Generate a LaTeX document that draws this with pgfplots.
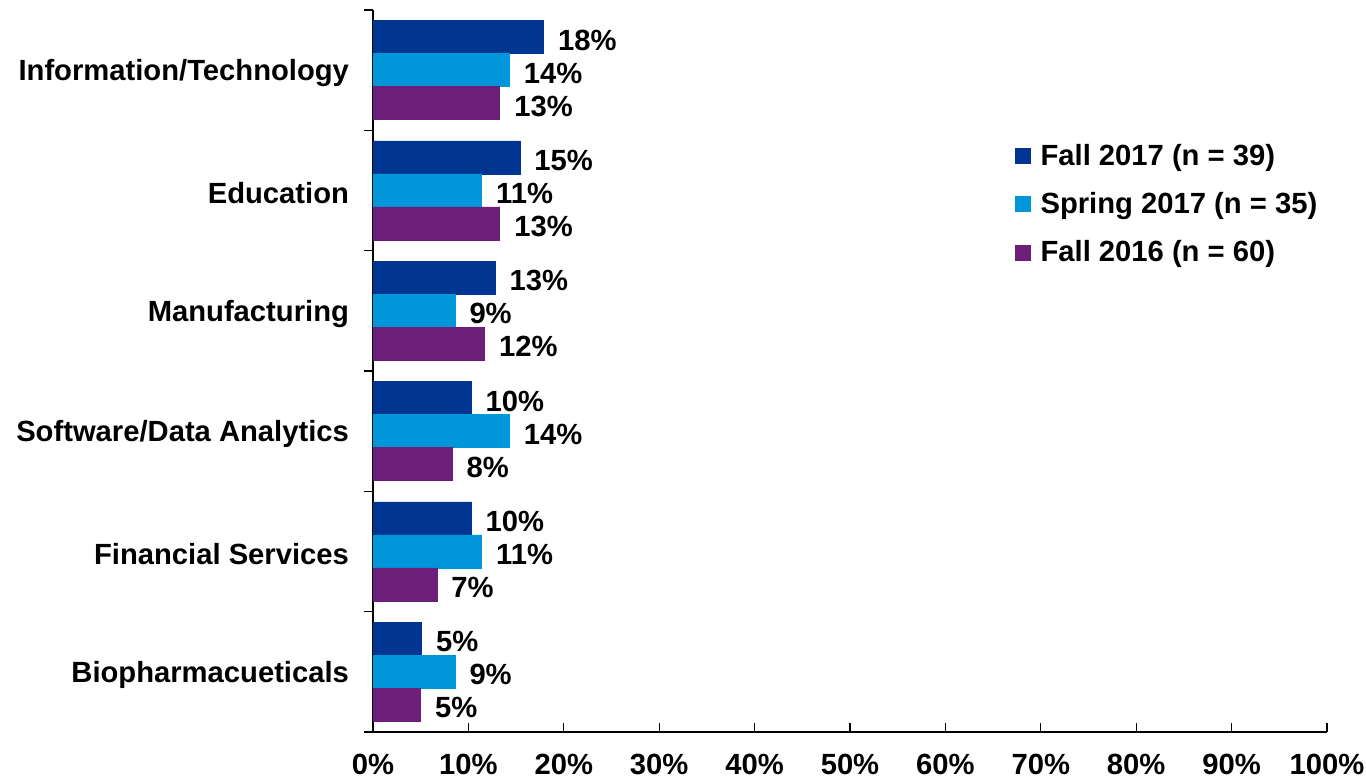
\documentclass[border=0pt]{standalone}
\usepackage{pgfplots}
\pgfplotsset{compat=1.18}
\usepackage{fontspec}
\setmainfont{Liberation Sans}
\definecolor{cA}{HTML}{003591}
\definecolor{cB}{HTML}{0096DA}
\definecolor{cC}{HTML}{6C1F79}
\newcommand{\lf}{\fontsize{14.6}{16}\selectfont\bfseries}
\begin{document}
\begin{tikzpicture}
\begin{axis}[
  at={(0,0)}, anchor=south west,
  scale only axis, width=477pt, height=361pt,
  xbar, bar width=16.5pt,
  xmin=0, xmax=100, ymin=-0.5, ymax=5.5,
  axis lines*=left,
  axis line style={black, line width=0.6pt},
  /pgf/number format/assume math mode=true,
  xtick={0,10,...,100},
  xticklabel={\pgfmathprintnumber{\tick}\%},
  ytick={0,...,5},
  yticklabels={Biopharmacueticals, Financial Services, Software/Data Analytics, Manufacturing, Education, Information/Technology},
  minor ytick={-0.5,0.5,...,5.5},
  tick align=outside,
  major tick length=4.5pt, minor tick length=4.5pt,
  major y tick style={draw=none},
  major x tick style={yshift=4.5pt, black, line width=0.6pt},
  minor y tick style={black, line width=0.6pt},
  tick label style={font=\lf, black},
  y tick label style={xshift=-4pt, yshift=-1.5pt},
  x tick label style={yshift=-3pt},
  nodes near coords={\pgfmathprintnumber[fixed,precision=0]{\pgfplotspointmeta}\%},
  nodes near coords style={font=\lf, black, xshift=3.7pt, yshift=-1.5pt},
  legend style={at={(0.666,0.826)}, anchor=north west, draw=none, fill=none, font=\lf, row sep=8pt},
  legend cell align=left,
  legend image code/.code={\fill[#1] (0pt,-3.75pt) rectangle (7.5pt,3.75pt); \path (10.5pt,0pt);},
]
\addplot[fill=cA, draw=cA, bar shift=16.5pt] coordinates {(17.9,5) (15.4,4) (12.8,3) (10.3,2) (10.3,1) (5.1,0)};
\addplot[fill=cB, draw=cB, bar shift=0pt] coordinates {(14.3,5) (11.4,4) (8.6,3) (14.3,2) (11.4,1) (8.6,0)};
\addplot[fill=cC, draw=cC, bar shift=-16.5pt] coordinates {(13.3,5) (13.3,4) (11.7,3) (8.3,2) (6.7,1) (5.0,0)};
\legend{Fall 2017 (n = 39), Spring 2017 (n = 35), Fall 2016 (n = 60)}
\end{axis}
\pgfresetboundingbox
\path[use as bounding box] (-186.5pt,-24pt) rectangle (496.5pt,366pt);
\end{tikzpicture}
\end{document}
